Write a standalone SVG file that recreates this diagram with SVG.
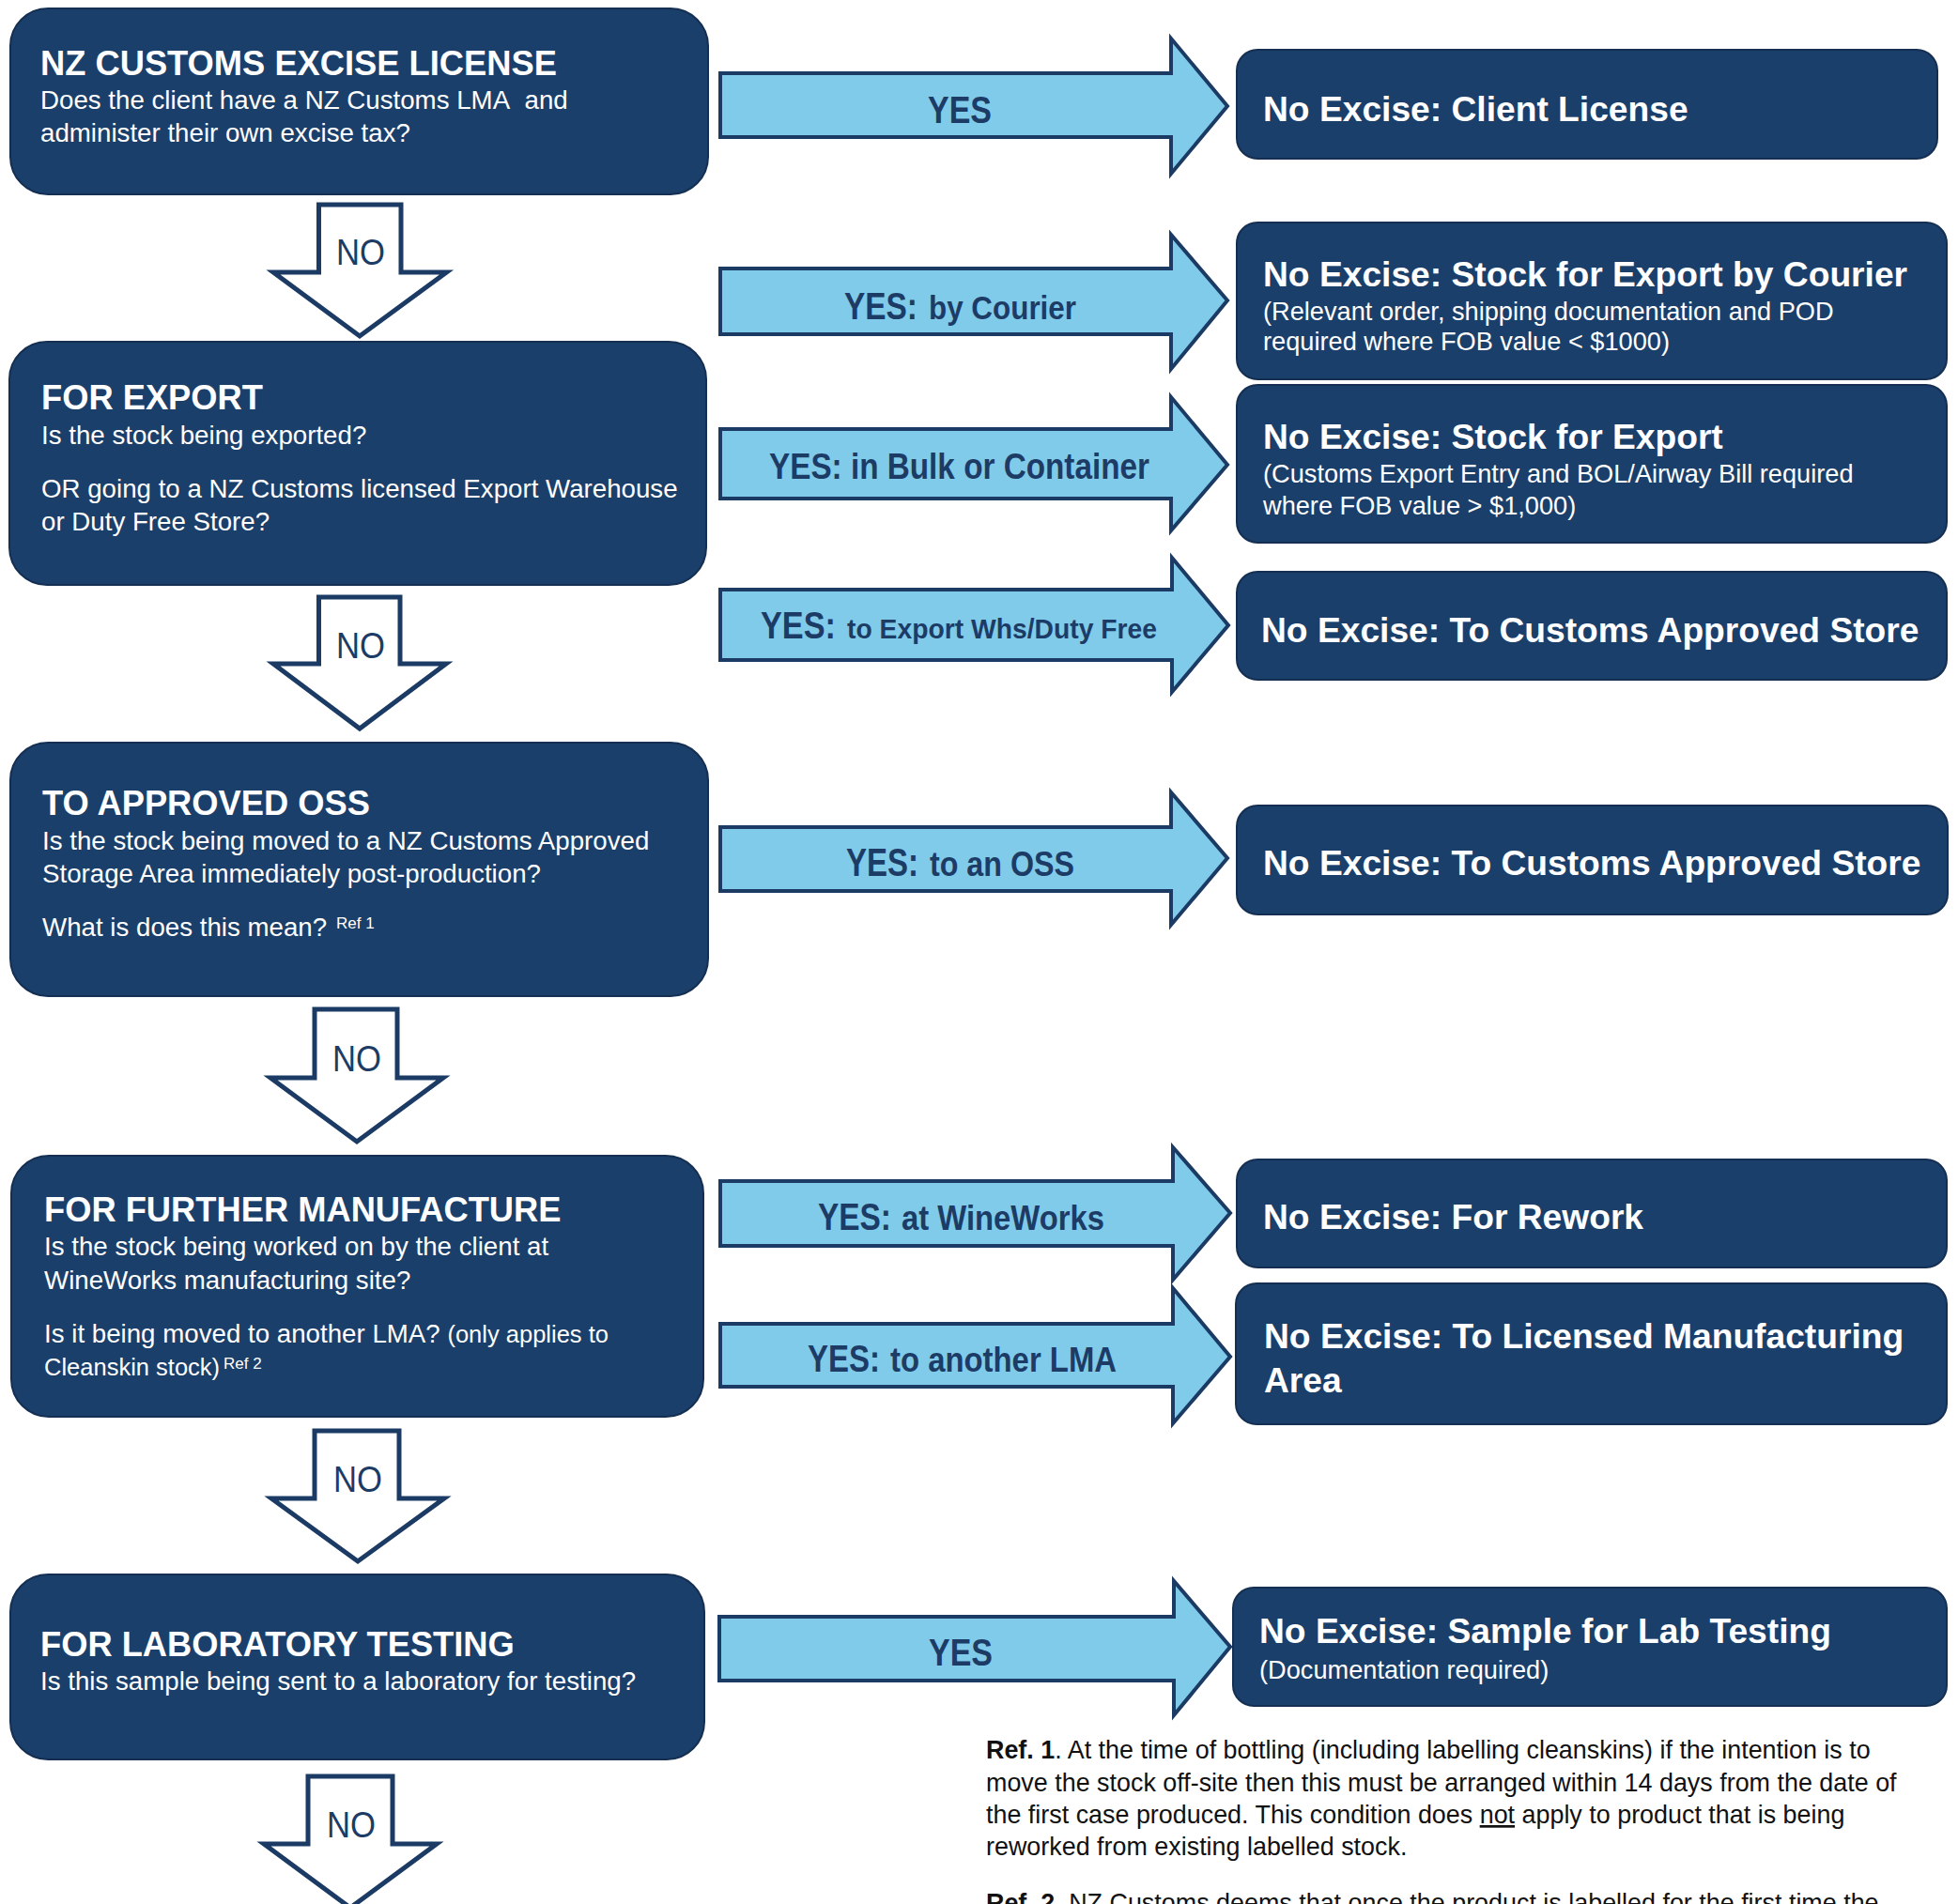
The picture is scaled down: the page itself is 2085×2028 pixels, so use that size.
<svg xmlns="http://www.w3.org/2000/svg" width="2085" height="2028" viewBox="0 0 2085 2028">
<style>
.box{fill:#1b3f6b;stroke:#142f52;stroke-width:2}
.yes{fill:#80cbea;stroke:#1b3b64;stroke-width:4;stroke-linejoin:miter}
.no{fill:#ffffff;stroke:#1b3b64;stroke-width:5;stroke-linejoin:miter}
.t{font-family:"Liberation Sans",Arial,sans-serif;fill:#ffffff}
.h{font-weight:bold;font-size:36.3px}
.b{font-size:27.7px}
.s{font-size:25.5px}
.sup{font-size:17px}
.rh{font-weight:bold;font-size:37.2px}
.rs{font-size:27.2px}
.lab{font-family:"Liberation Sans",Arial,sans-serif;font-weight:bold;fill:#1c3c66}
.nol{font-family:"Liberation Sans",Arial,sans-serif;font-size:38px;fill:#1c3c66}
.ref{font-family:"Liberation Sans",Arial,sans-serif;font-size:26.9px;fill:#111111}
</style>
<rect width="2085" height="2028" fill="#ffffff"/>

<g id="connectors">
  <g id="no-arrows">
    <path class="no" d="M339.5 218 H427 V290 H475.5 L383 358 L291 290 H339.5 Z"/>
    <text class="nol" x="384" y="282" text-anchor="middle" textLength="52" lengthAdjust="spacingAndGlyphs">NO</text>
    <path class="no" d="M339.5 636 H426 V707 H475 L383 776 L291 707 H339.5 Z"/>
    <text class="nol" x="384" y="701" text-anchor="middle" textLength="52" lengthAdjust="spacingAndGlyphs">NO</text>
    <path class="no" d="M335 1075 H423 V1148 H472 L380 1216 L288 1148 H335 Z"/>
    <text class="nol" x="380" y="1141" text-anchor="middle" textLength="52" lengthAdjust="spacingAndGlyphs">NO</text>
    <path class="no" d="M335 1524 H425 V1596 H473 L381 1663 L289 1596 H335 Z"/>
    <text class="nol" x="381" y="1589" text-anchor="middle" textLength="52" lengthAdjust="spacingAndGlyphs">NO</text>
    <path class="no" d="M328 1892 H418 V1964 H465 L373 2032 L281 1964 H328 Z"/>
    <text class="nol" x="374" y="1957" text-anchor="middle" textLength="52" lengthAdjust="spacingAndGlyphs">NO</text>
  </g>
  <g id="yes-arrows">
    <path class="yes" d="M767 78 H1247 V41 L1307 113 L1247 185 V146 H767 Z"/>
    <text class="lab" x="988" y="131" font-size="41" textLength="68" lengthAdjust="spacingAndGlyphs">YES</text>

    <path class="yes" d="M767 286 H1247 V250 L1307 320 L1247 393 V356 H767 Z"/>
    <text class="lab" x="899" y="340" font-size="41" textLength="78" lengthAdjust="spacingAndGlyphs">YES:</text>
    <text class="lab" x="989" y="340" font-size="35" textLength="157" lengthAdjust="spacingAndGlyphs">by Courier</text>

    <path class="yes" d="M767 457 H1247 V423 L1307 495 L1247 565 V531 H767 Z"/>
    <text class="lab" x="819" y="510" font-size="38" textLength="405" lengthAdjust="spacingAndGlyphs">YES: in Bulk or Container</text>

    <path class="yes" d="M767 628 H1248 V594 L1308 666 L1248 737 V703 H767 Z"/>
    <text class="lab" x="810" y="680" font-size="41" textLength="80" lengthAdjust="spacingAndGlyphs">YES:</text>
    <text class="lab" x="902" y="680" font-size="28.6" textLength="330" lengthAdjust="spacingAndGlyphs">to Export Whs/Duty Free</text>

    <path class="yes" d="M767 881 H1247 V844 L1307 914 L1247 985 V949 H767 Z"/>
    <text class="lab" x="901" y="933" font-size="42" textLength="77" lengthAdjust="spacingAndGlyphs">YES:</text>
    <text class="lab" x="990" y="933" font-size="37" textLength="154" lengthAdjust="spacingAndGlyphs">to an OSS</text>

    <path class="yes" d="M767 1258 H1249 V1222 L1310 1292 L1249 1363 V1327 H767 Z"/>
    <text class="lab" x="871" y="1310" font-size="41" textLength="78" lengthAdjust="spacingAndGlyphs">YES:</text>
    <text class="lab" x="960" y="1310" font-size="36" textLength="216" lengthAdjust="spacingAndGlyphs">at WineWorks</text>

    <path class="yes" d="M767 1410 H1249 V1372 L1310 1445 L1249 1516 V1477 H767 Z"/>
    <text class="lab" x="860" y="1461" font-size="41" textLength="77" lengthAdjust="spacingAndGlyphs">YES:</text>
    <text class="lab" x="948" y="1461" font-size="36" textLength="241" lengthAdjust="spacingAndGlyphs">to another LMA</text>

    <path class="yes" d="M766 1722 H1250 V1684 L1310 1754 L1250 1827 V1790 H766 Z"/>
    <text class="lab" x="989" y="1774" font-size="41" textLength="68" lengthAdjust="spacingAndGlyphs">YES</text>
  </g>
</g>

<g id="q-license">
  <rect class="box" x="11" y="9" width="743" height="198" rx="40"/>
  <text class="t h" x="43" y="80">NZ CUSTOMS EXCISE LICENSE</text>
  <text class="t b" x="43" y="116">Does the client have a NZ Customs LMA&#160; and</text>
  <text class="t b" x="43" y="151">administer their own excise tax?</text>
</g>

<g id="q-export">
  <rect class="box" x="10" y="364" width="742" height="259" rx="40"/>
  <text class="t h" x="44" y="436">FOR EXPORT</text>
  <text class="t b" x="44" y="473">Is the stock being exported?</text>
  <text class="t b" x="44" y="530">OR going to a NZ Customs licensed Export Warehouse</text>
  <text class="t b" x="44" y="565">or Duty Free Store?</text>
</g>

<g id="q-oss">
  <rect class="box" x="11" y="791" width="743" height="270" rx="40"/>
  <text class="t h" x="45" y="868">TO APPROVED OSS</text>
  <text class="t b" x="45" y="905">Is the stock being moved to a NZ Customs Approved</text>
  <text class="t b" x="45" y="940">Storage Area immediately post-production?</text>
  <text class="t b" x="45" y="997">What is does this mean?</text>
  <text class="t sup" x="358" y="989">Ref 1</text>
</g>

<g id="q-manufacture">
  <rect class="box" x="12" y="1231" width="737" height="278" rx="40"/>
  <text class="t h" x="47" y="1301">FOR FURTHER MANUFACTURE</text>
  <text class="t b" x="47" y="1337">Is the stock being worked on by the client at</text>
  <text class="t b" x="47" y="1373">WineWorks manufacturing site?</text>
  <text class="t b" x="47" y="1430">Is it being moved to another LMA? <tspan class="s">(only applies to</tspan></text>
  <text class="t s" x="47" y="1465">Cleanskin stock)</text>
  <text class="t sup" x="238" y="1458">Ref 2</text>
</g>

<g id="q-lab">
  <rect class="box" x="11" y="1677" width="739" height="197" rx="40"/>
  <text class="t h" x="43" y="1764">FOR LABORATORY TESTING</text>
  <text class="t b" x="43" y="1800">Is this sample being sent to a laboratory for testing?</text>
</g>

<g id="r-client-license">
  <rect class="box" x="1317" y="53" width="746" height="116" rx="22"/>
  <text class="t rh" x="1345" y="129">No Excise: Client License</text>
</g>

<g id="r-courier">
  <rect class="box" x="1317" y="237" width="756" height="167" rx="22"/>
  <text class="t rh" x="1345" y="305">No Excise: Stock for Export by Courier</text>
  <text class="t rs" x="1345" y="341">(Relevant order, shipping documentation and POD</text>
  <text class="t rs" x="1345" y="373">required where FOB value &lt; $1000)</text>
</g>

<g id="r-export">
  <rect class="box" x="1317" y="410" width="756" height="168" rx="22"/>
  <text class="t rh" x="1345" y="478">No Excise: Stock for Export</text>
  <text class="t rs" x="1345" y="514">(Customs Export Entry and BOL/Airway Bill required</text>
  <text class="t rs" x="1345" y="548">where FOB value &gt; $1,000)</text>
</g>

<g id="r-store-1">
  <rect class="box" x="1317" y="609" width="756" height="115" rx="22"/>
  <text class="t rh" x="1343" y="684">No Excise: To Customs Approved Store</text>
</g>

<g id="r-store-2">
  <rect class="box" x="1317" y="858" width="757" height="116" rx="22"/>
  <text class="t rh" x="1345" y="932">No Excise: To Customs Approved Store</text>
</g>

<g id="r-rework">
  <rect class="box" x="1317" y="1235" width="756" height="115" rx="22"/>
  <text class="t rh" x="1345" y="1309">No Excise: For Rework</text>
</g>

<g id="r-lma">
  <rect class="box" x="1316" y="1367" width="757" height="150" rx="22"/>
  <text class="t rh" x="1346" y="1436">No Excise: To Licensed Manufacturing</text>
  <text class="t rh" x="1346" y="1483">Area</text>
</g>

<g id="r-lab">
  <rect class="box" x="1313" y="1691" width="760" height="126" rx="22"/>
  <text class="t rh" x="1341" y="1750">No Excise: Sample for Lab Testing</text>
  <text class="t rs" x="1341" y="1788">(Documentation required)</text>
</g>

<g id="references">
  <text class="ref" x="1050" y="1873"><tspan font-weight="bold">Ref. 1</tspan>. At the time of bottling (including labelling cleanskins) if the intention is to</text>
  <text class="ref" x="1050" y="1908">move the stock off-site then this must be arranged within 14 days from the date of</text>
  <text class="ref" x="1050" y="1942">the first case produced. This condition does <tspan text-decoration="underline">not</tspan> apply to product that is being</text>
  <text class="ref" x="1050" y="1976">reworked from existing labelled stock.</text>
  <text class="ref" x="1050" y="2036"><tspan font-weight="bold">Ref. 2</tspan>. NZ Customs deems that once the product is labelled for the first time the</text>
</g>
</svg>
